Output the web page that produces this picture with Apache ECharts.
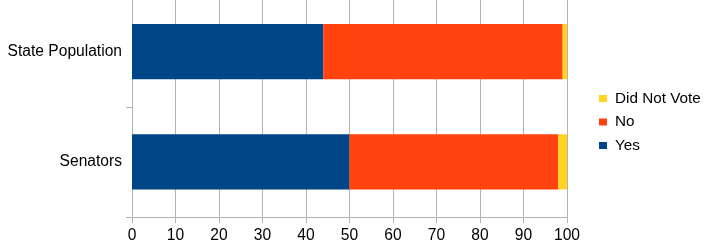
<!DOCTYPE html>
<html><head><meta charset="utf-8">
<script src="https://cdn.jsdelivr.net/npm/echarts@6/dist/echarts.min.js"></script>
<style>html,body{margin:0;padding:0;background:#fff;overflow:hidden}#c{width:710px;height:262px;margin-top:-10px}</style>
</head><body><div id="c"></div>
<script>
const categories = ['Senators', 'State Population'];
const yesValues = [50, 44];
const noValues = [48, 55];
const didNotVoteValues = [2, 1];
const xTicks = [0, 100, 10];

const chart = echarts.init(document.getElementById('c'), null, {renderer: 'canvas'});
const font = 'Liberation Sans';
const fs = 15.6;
chart.setOption({
  animation: false,
  textStyle: {fontFamily: font},
  grid: {left: 132, right: 143, top: 6.5, bottom: 35, containLabel: false},
  legend: {
    orient: 'vertical', left: 599, top: 99.5, padding: 0,
    itemWidth: 8, itemHeight: 7, itemGap: 5.5, icon: 'rect',
    data: ['Did Not Vote', 'No', 'Yes'],
    textStyle: {fontFamily: font, fontSize: 15.3, lineHeight: 18, color: '#000', padding: [0, 0, 0, 3]}
  },
  xAxis: {
    type: 'value', min: xTicks[0], max: xTicks[1], interval: xTicks[2],
    axisLine: {show: true, lineStyle: {color: '#b3b3b3'}},
    axisTick: {show: true, length: 6, lineStyle: {color: '#b3b3b3'}},
    splitLine: {show: true, lineStyle: {color: '#b3b3b3'}},
    axisLabel: {color: '#000', fontSize: fs, fontFamily: font, margin: 11}
  },
  yAxis: {
    type: 'category', data: categories,
    axisLine: {show: true, lineStyle: {color: '#b3b3b3'}},
    axisTick: {show: true, length: 6, lineStyle: {color: '#b3b3b3'}},
    axisLabel: {color: '#000', fontSize: fs, fontFamily: font, margin: 10}
  },
  series: [
    {name: 'Yes', type: 'bar', stack: 's', data: yesValues, barWidth: '50%', itemStyle: {color: '#004586'}},
    {name: 'No', type: 'bar', stack: 's', data: noValues, barWidth: '50%', itemStyle: {color: '#ff420e'}},
    {name: 'Did Not Vote', type: 'bar', stack: 's', data: didNotVoteValues, barWidth: '50%', itemStyle: {color: '#ffd320'}}
  ]
});
</script></body></html>
